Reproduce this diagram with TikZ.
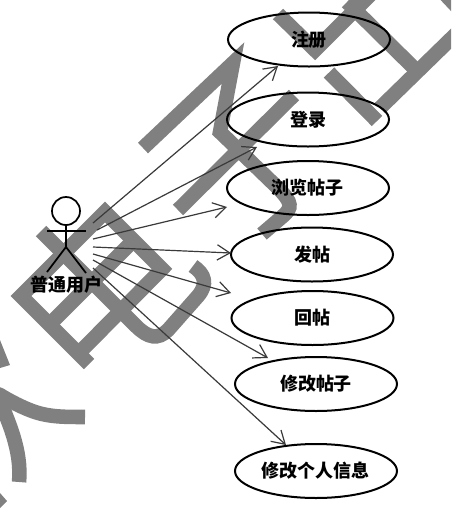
\documentclass[tikz,border=0pt]{standalone}
\usepackage{fontspec}
\newfontfamily\cjk{Noto Sans CJK SC}
\usetikzlibrary{shapes.geometric,arrows.meta}
\definecolor{wm}{HTML}{808080}
\definecolor{conn}{HTML}{3A3A3A}
\tikzset{
  wmark/.style={draw=wm,line width=10.9pt,line cap=butt,line join=miter,miter limit=10},
  wmfill/.style={fill=wm,draw=none},
  usecase/.style={ellipse,draw=black,line width=1.5pt,minimum width=121.5pt,minimum height=40.5pt,inner sep=0pt,font=\cjk\bfseries\fontsize{13.5}{15}\selectfont},
  actorline/.style={draw=black,line width=1.3pt},
  assoc/.style={draw=conn,line width=0.9pt,-{Straight Barb[length=9.5pt,width=11.5pt,line width=0.9pt]}}
}
\begin{document}
\begin{tikzpicture}[x=0.75pt,y=-0.75pt]
\useasboundingbox (0,0) rectangle (451,519);
\clip (0,0) rectangle (451,519);
\fill[white] (0,0) rectangle (451,519);
% watermark
\draw[wmark] (278,14) -- (315,50) -- (372,-7);
\draw[wmark] (347,2) -- (420,74);
\draw[wmark] (329,72.5) -- (377,121);
\draw[wmark] (380,108) -- (460,30);
\draw[wmark] (444,-7) -- (460,10);
\draw[wmark] (294,95) -- (178,210);
\draw[wmark] (143,148) -- (233,63) -- (220,132) -- (278,188) .. controls (293,203) and (292,208) .. (283,216) -- (262,234);
\draw[wmark] (89,364) -- (21,296) -- (105,212) -- (162,269) -- (79,353);
\draw[wmark] (50,324) -- (134,240);
\draw[wmark] (41,231) -- (136,326) .. controls (148,338) and (158,340) .. (168,330) -- (198,296) .. controls (208,284) and (205,274) .. (193,266);
\draw[wmark] (-8,392) -- (0,395) .. controls (8,400) and (23,408) .. (35,412) .. controls (50,417) and (65,417) .. (85,417);
\draw[wmark] (-4,392) .. controls (8,420) and (22,450) .. (19,482);
\fill[wmfill] (0,340) -- (10,365) -- (0,368) -- cycle;
\fill[wmfill] (0,493) -- (7,501) -- (0,508) -- cycle;
% use cases
\node[usecase] (u1) at (309,39.5) {注册};
\node[usecase] (u2) at (308,119.5) {登录};
\node[usecase] (u3) at (308,188) {浏览帖子};
\node[usecase] (u4) at (312,254.5) {发帖};
\node[usecase] (u5) at (312.5,318) {回帖};
\node[usecase] (u6) at (316,384) {修改帖子};
\node[usecase] (u7) at (316,471) {修改个人信息};
% actor
\node[circle,actorline,minimum size=21pt,inner sep=0pt] (head) at (66,211) {};
\node[inner sep=0pt,font=\cjk\bfseries\fontsize{13.5}{15}\selectfont] (actor) at (67,285) {普通用户};
\coordinate (armL) at (47,231);
\coordinate (armR) at (86,231);
\coordinate (hip) at (66,247);
\coordinate (legL) at (47,272);
\coordinate (legR) at (86,273);
\draw[actorline] (armL) -- (armR);
\draw[actorline] (head.south) -- (hip);
\draw[actorline] (legL) -- (hip) -- (legR);
% connector ends
\coordinate (s1) at (93,223); \coordinate (e1) at (278,66);
\coordinate (s2) at (97,230); \coordinate (e2) at (257,147);
\coordinate (s3) at (93,239); \coordinate (e3) at (227,207);
\coordinate (s4) at (93,247); \coordinate (e4) at (231,253);
\coordinate (s5) at (93,254); \coordinate (e5) at (231,293);
\coordinate (s6) at (93,260); \coordinate (e6) at (268,358);
\coordinate (s7) at (93,268); \coordinate (e7) at (286,445);
\foreach \i in {1,...,7} {\draw[assoc] (s\i) -- (e\i);}
\end{tikzpicture}
\end{document}
